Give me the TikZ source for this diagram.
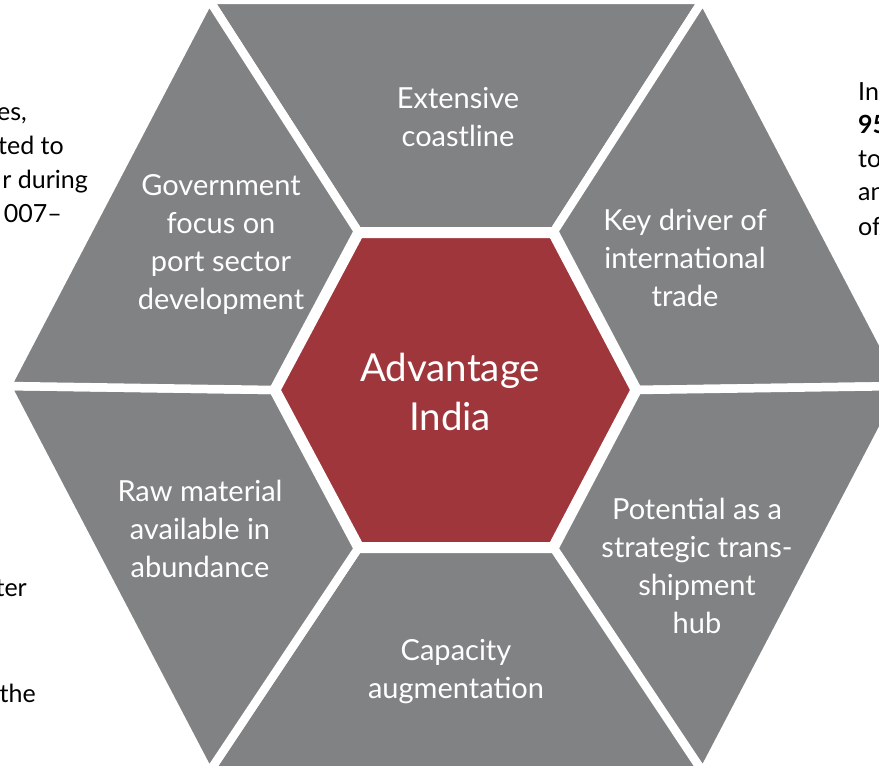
\documentclass[tikz,border=0pt]{standalone}
\usepackage{fontspec}
\setmainfont{Lato}
\definecolor{segGray}{RGB}{128,130,131}
\definecolor{hubRed}{RGB}{158,54,60}

\begin{document}
\begin{tikzpicture}[x=1pt, y=-1pt, line join=miter,
    segment/.style={fill=segGray, draw=white, line width=8.5pt},
    hub/.style={fill=hubRed, draw=white, line width=11pt},
    seglabel/.style={text=white, align=center, inner sep=0pt,
      font=\fontsize{29}{38}\selectfont},
    hublabel/.style={text=white, align=center, inner sep=0pt,
      font=\fontsize{38.5}{49}\selectfont},
    sidenote/.style={text=black, inner sep=0pt,
      font=\fontsize{25}{34}\selectfont}]
  % Page window
  \useasboundingbox (0,0) rectangle (879,766);

  % Outer hexagon corners (centre of the white gaps)
  \coordinate (o1) at (209,-0.25);  % top left
  \coordinate (o2) at (703,-0.25);  % top right
  \coordinate (o3) at (905,386);    % right
  \coordinate (o4) at (703,772.25); % bottom right
  \coordinate (o5) at (209,772.25); % bottom left
  \coordinate (o6) at (7,386);      % left

  % Inner hexagon corners
  \coordinate (i1) at (358.7,232.5);
  \coordinate (i2) at (553.3,232.5);
  \coordinate (i3) at (636.2,390);
  \coordinate (i4) at (553.3,547.5);
  \coordinate (i5) at (358.7,547.5);
  \coordinate (i6) at (274.8,390);

  % Six grey segments, white stroke gives the gaps
  \foreach \a/\b in {1/2,2/3,3/4,4/5,5/6,6/1}
    \path[segment] (o\a) -- (o\b) -- (i\b) -- (i\a) -- cycle;

  % Red hub
  \path[hub] (i1) -- (i2) -- (i3) -- (i4) -- (i5) -- (i6) -- cycle;

  % Segment labels
  \node[seglabel] (coast) at (458,117) {Extensive\\coastline};
  \node[seglabel] (govt) at (221,244) {Government\\focus on\\port sector\\development};
  \node[seglabel] (trade) at (685,258) {Key driver of\\international\\trade};
  \node[seglabel] (raw) at (200,529) {Raw material\\available in\\abundance};
  \node[seglabel] (tranship) at (697,566) {Potential as a\\strategic trans-\\shipment\\hub};
  \node[seglabel] (capacity) at (456,672) {Capacity\\augmentation};
  \node[hublabel] (adv) at (450,392) {Advantage\\India};

  % Notes running off the page edges
  \node[sidenote, anchor=base east] (nl1) at (27,120) {es,};
  \node[sidenote, anchor=base east] (nl2) at (64,154) {ted to};
  \node[sidenote, anchor=base east] (nl3) at (88,188) {r during};
  \node[sidenote, anchor=base east] (nl4) at (62,222) {007–};
  \node[sidenote, anchor=base east] (nl5) at (27,596) {ter};
  \node[sidenote, anchor=base east] (nl6) at (36,702) {the};

  \node[sidenote, anchor=base west] (nr1) at (858,100) {In};
  \node[sidenote, anchor=base west] (nr2) at (858,133) {\bfseries 95};
  \node[sidenote, anchor=base west] (nr3) at (858,167) {to};
  \node[sidenote, anchor=base west] (nr4) at (858,200) {an};
  \node[sidenote, anchor=base west] (nr5) at (858,235) {of};
\end{tikzpicture}
\end{document}
